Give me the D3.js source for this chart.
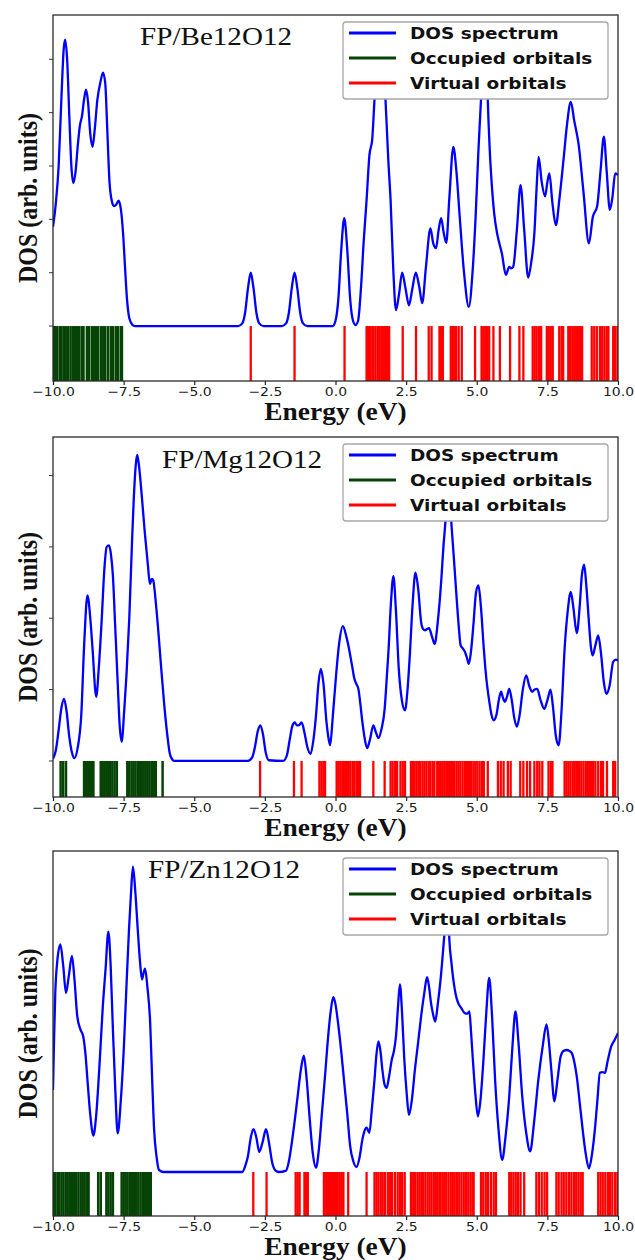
<!DOCTYPE html>
<html>
<head>
<meta charset="utf-8">
<script src="https://cdn.jsdelivr.net/npm/d3@7.9.0/dist/d3.min.js"></script>
<style>
  body { margin: 0; background: #fff; }
  svg { display: block; }
</style>
</head>
<body>
<svg id="chart" width="635" height="1260"></svg>
<script>
// ── data ──────────────────────────────────────────────────────────
const energyTicks  = [-10, -7.5, -5, -2.5, 0, 2.5, 5, 7.5, 10];
const legendLabels = ['DOS spectrum', 'Occupied orbitals', 'Virtual orbitals'];
const titles       = ['FP/Be12O12', 'FP/Mg12O12', 'FP/Zn12O12'];

// [energy (eV), DOS (arb.)]
const beDos = [[-10.0,1.86],[-9.9,2.3],[-9.8,3.0],[-9.7,4.3],[-9.62,5.2],[-9.57,5.37],[-9.5,5.0],[-9.42,3.9],[-9.35,3.0],[-9.28,2.68],[-9.2,2.9],[-9.12,3.4],[-9.05,3.75],[-8.97,3.95],[-8.9,4.25],[-8.83,4.43],[-8.76,4.2],[-8.68,3.6],[-8.6,3.36],[-8.52,3.7],[-8.43,4.24],[-8.33,4.55],[-8.23,4.75],[-8.15,4.55],[-8.08,3.7],[-8.0,2.7],[-7.92,2.35],[-7.84,2.25],[-7.76,2.28],[-7.68,2.35],[-7.6,2.2],[-7.52,1.74],[-7.45,1.1],[-7.38,0.5],[-7.3,0.15],[-7.2,0.03],[-7.1,0],[-3.45,0],[-3.3,0.05],[-3.2,0.25],[-3.1,0.7],[-3.0,1.0],[-2.9,0.7],[-2.8,0.25],[-2.7,0.05],[-2.55,0],[-1.9,0],[-1.75,0.05],[-1.65,0.25],[-1.55,0.7],[-1.45,1.0],[-1.35,0.7],[-1.25,0.25],[-1.15,0.05],[-1.0,0],[-0.1,0],[0.0,0.1],[0.1,0.5],[0.2,1.4],[0.31,2.02],[0.42,1.4],[0.52,0.5],[0.62,0.1],[0.71,0.02],[0.8,0.1],[0.9,0.7],[1.0,1.6],[1.1,2.36],[1.2,3.2],[1.3,3.5],[1.38,4.24],[1.48,5.0],[1.57,5.25],[1.67,5.0],[1.77,4.24],[1.87,3.1],[1.95,2.36],[2.05,1.0],[2.14,0.3],[2.25,0.6],[2.36,1.0],[2.48,0.7],[2.6,0.39],[2.72,0.7],[2.84,1.0],[2.96,0.75],[3.07,0.43],[3.2,1.1],[3.36,1.83],[3.46,1.55],[3.56,1.46],[3.65,1.8],[3.74,2.02],[3.83,1.75],[3.92,1.56],[4.03,2.4],[4.17,3.36],[4.28,2.9],[4.39,2.1],[4.55,1.0],[4.72,0.36],[4.85,1.0],[4.96,2.05],[5.06,3.3],[5.15,4.24],[5.25,5.1],[5.3,5.3],[5.35,5.0],[5.39,4.24],[5.46,3.3],[5.53,2.67],[5.62,2.1],[5.72,1.74],[5.8,1.55],[5.89,1.36],[6.03,0.96],[6.15,1.11],[6.22,1.08],[6.29,1.11],[6.42,1.8],[6.55,2.64],[6.68,1.8],[6.82,0.91],[6.93,1.2],[7.04,1.74],[7.12,2.6],[7.19,3.17],[7.3,2.7],[7.42,2.43],[7.5,2.7],[7.57,2.86],[7.68,2.3],[7.8,1.89],[7.93,2.4],[8.07,3.11],[8.2,3.8],[8.33,4.2],[8.45,3.85],[8.61,3.39],[8.78,2.5],[8.97,1.55],[9.11,2.05],[9.26,2.24],[9.38,2.9],[9.5,3.55],[9.6,2.9],[9.71,2.18],[9.8,2.4],[9.9,2.86],[10.0,2.83]];

const mgDos = [[-10.0,0.03],[-9.9,0.15],[-9.81,0.4],[-9.7,0.75],[-9.61,0.87],[-9.52,0.7],[-9.43,0.36],[-9.33,0.12],[-9.24,0.04],[-9.12,0.2],[-9.0,0.64],[-8.9,1.6],[-8.78,2.32],[-8.68,2.0],[-8.6,1.57],[-8.47,0.9],[-8.38,1.3],[-8.28,1.95],[-8.18,2.7],[-8.1,3.0],[-8.02,3.02],[-7.95,2.9],[-7.88,2.6],[-7.8,1.9],[-7.71,1.1],[-7.64,0.5],[-7.57,0.27],[-7.48,0.7],[-7.4,1.2],[-7.3,2.0],[-7.2,3.1],[-7.14,3.68],[-7.07,4.15],[-7.02,4.29],[-6.96,4.15],[-6.85,3.68],[-6.75,3.2],[-6.64,2.74],[-6.57,2.48],[-6.5,2.55],[-6.45,2.53],[-6.38,2.3],[-6.28,1.86],[-6.17,1.3],[-6.06,0.78],[-5.95,0.35],[-5.85,0.08],[-5.7,0],[-3.1,0],[-2.95,0.05],[-2.85,0.2],[-2.75,0.42],[-2.66,0.5],[-2.57,0.38],[-2.47,0.12],[-2.36,0.01],[-1.85,0],[-1.72,0.08],[-1.62,0.3],[-1.52,0.5],[-1.44,0.54],[-1.37,0.5],[-1.3,0.5],[-1.2,0.54],[-1.1,0.4],[-1.0,0.2],[-0.88,0.1],[-0.78,0.3],[-0.69,0.64],[-0.6,1.1],[-0.52,1.29],[-0.43,1.1],[-0.32,0.55],[-0.24,0.3],[-0.19,0.22],[-0.1,0.6],[0.02,1.2],[0.13,1.65],[0.26,1.89],[0.38,1.75],[0.48,1.57],[0.58,1.35],[0.67,1.15],[0.75,1.07],[0.81,1.01],[0.88,0.8],[0.95,0.55],[1.04,0.3],[1.12,0.18],[1.22,0.3],[1.34,0.5],[1.43,0.4],[1.52,0.32],[1.63,0.45],[1.74,0.73],[1.82,1.2],[1.88,1.57],[1.96,2.2],[2.05,2.59],[2.14,2.1],[2.24,1.29],[2.35,0.85],[2.46,0.71],[2.55,1.0],[2.63,1.48],[2.73,2.2],[2.83,2.64],[2.93,2.4],[3.03,1.95],[3.1,1.85],[3.17,1.83],[3.24,1.85],[3.31,1.86],[3.41,1.75],[3.51,1.64],[3.62,1.95],[3.74,2.51],[3.82,3.0],[3.89,3.35],[3.96,3.8],[4.0,3.9],[4.04,3.8],[4.1,3.35],[4.18,2.9],[4.25,2.5],[4.35,1.95],[4.43,1.62],[4.5,1.58],[4.58,1.53],[4.65,1.45],[4.72,1.36],[4.8,1.55],[4.89,1.95],[4.97,2.35],[5.06,2.46],[5.15,2.15],[5.25,1.57],[5.34,1.15],[5.43,0.87],[5.52,0.65],[5.6,0.57],[5.7,0.65],[5.78,0.85],[5.86,0.97],[5.93,0.88],[6.0,0.83],[6.07,0.9],[6.15,1.01],[6.24,0.85],[6.33,0.6],[6.42,0.48],[6.52,0.65],[6.63,1.0],[6.75,1.2],[6.86,1.05],[6.96,0.97],[7.05,1.0],[7.14,1.01],[7.26,0.85],[7.39,0.73],[7.5,0.85],[7.61,1.0],[7.7,0.75],[7.8,0.35],[7.9,0.22],[8.0,0.7],[8.11,1.57],[8.22,2.1],[8.33,2.37],[8.42,2.15],[8.54,1.79],[8.65,2.2],[8.72,2.6],[8.8,2.75],[8.88,2.45],[8.97,1.95],[9.04,1.6],[9.1,1.48],[9.2,1.62],[9.3,1.76],[9.4,1.5],[9.5,1.1],[9.59,0.94],[9.7,1.05],[9.83,1.39],[9.92,1.42],[10.0,1.41]];

const znDos = [[-10.0,1.15],[-9.96,1.9],[-9.92,2.5],[-9.85,2.95],[-9.74,3.19],[-9.64,2.9],[-9.54,2.51],[-9.44,2.75],[-9.33,3.03],[-9.24,2.7],[-9.14,2.18],[-9.03,2.0],[-8.93,1.9],[-8.85,1.65],[-8.78,1.29],[-8.68,0.8],[-8.57,0.51],[-8.47,0.8],[-8.35,1.53],[-8.24,2.3],[-8.14,2.84],[-8.04,3.37],[-7.96,2.9],[-7.88,2.0],[-7.8,1.2],[-7.71,0.54],[-7.6,1.0],[-7.49,1.76],[-7.4,2.6],[-7.31,3.4],[-7.24,3.9],[-7.17,4.28],[-7.09,3.95],[-7.0,3.4],[-6.92,2.95],[-6.85,2.7],[-6.8,2.78],[-6.74,2.85],[-6.66,2.6],[-6.56,2.09],[-6.49,1.3],[-6.42,0.59],[-6.33,0.2],[-6.25,0.03],[-6.1,0],[-3.3,0],[-3.2,0.08],[-3.1,0.22],[-3.0,0.48],[-2.9,0.6],[-2.8,0.48],[-2.7,0.28],[-2.58,0.42],[-2.46,0.6],[-2.35,0.4],[-2.24,0.13],[-2.12,0.02],[-2.0,0],[-1.75,0.02],[-1.65,0.15],[-1.55,0.4],[-1.45,0.7],[-1.34,1.06],[-1.22,1.45],[-1.12,1.63],[-1.02,1.3],[-0.91,0.73],[-0.8,0.25],[-0.69,0.06],[-0.58,0.35],[-0.48,0.83],[-0.37,1.35],[-0.26,1.9],[-0.17,2.25],[-0.08,2.45],[0.0,2.35],[0.09,2.09],[0.2,1.7],[0.31,1.25],[0.42,0.8],[0.52,0.36],[0.63,0.15],[0.74,0.07],[0.85,0.2],[0.95,0.45],[1.03,0.58],[1.1,0.62],[1.2,0.55],[1.28,0.85],[1.38,1.29],[1.45,1.65],[1.52,1.83],[1.59,1.7],[1.66,1.43],[1.74,1.22],[1.81,1.18],[1.9,1.35],[1.99,1.57],[2.07,1.7],[2.14,1.9],[2.21,2.3],[2.28,2.63],[2.36,2.2],[2.43,1.62],[2.52,1.1],[2.6,0.8],[2.7,1.0],[2.81,1.43],[2.92,1.8],[3.03,2.18],[3.14,2.5],[3.24,2.73],[3.31,2.6],[3.38,2.37],[3.46,2.2],[3.53,2.11],[3.62,2.35],[3.72,2.7],[3.84,3.26],[3.9,3.55],[3.95,3.65],[4.0,3.55],[4.03,3.26],[4.1,2.95],[4.17,2.7],[4.25,2.5],[4.34,2.37],[4.45,2.3],[4.57,2.23],[4.66,2.22],[4.74,2.25],[4.8,1.95],[4.87,1.53],[4.95,1.1],[5.04,0.78],[5.13,1.0],[5.23,1.53],[5.34,2.25],[5.44,2.72],[5.54,2.2],[5.65,1.29],[5.77,0.6],[5.9,0.17],[6.02,0.5],[6.15,1.06],[6.27,1.8],[6.37,2.25],[6.48,1.8],[6.61,1.06],[6.75,0.55],[6.89,0.29],[7.03,0.7],[7.18,1.29],[7.33,1.75],[7.47,2.07],[7.56,1.8],[7.64,1.43],[7.75,0.99],[7.86,1.3],[7.97,1.62],[8.08,1.7],[8.18,1.71],[8.27,1.7],[8.36,1.67],[8.45,1.55],[8.54,1.34],[8.65,0.95],[8.75,0.59],[8.86,0.25],[8.97,0.05],[9.08,0.25],[9.18,0.59],[9.27,1.0],[9.36,1.39],[9.45,1.4],[9.54,1.39],[9.63,1.55],[9.76,1.76],[9.88,1.85],[10.0,1.95]];

// orbital energies (eV)
const beOccupied = [-9.98,-9.93,-9.85,-9.76,-9.7,-9.62,-9.55,-9.47,-9.38,-9.3,-9.22,-9.15,-9.07,-8.98,-8.92,-8.8,-8.72,-8.62,-8.55,-8.47,-8.4,-8.3,-8.22,-8.15,-8.05,-7.95,-7.88,-7.78,-7.7,-7.6,-7.56];
const beVirtual  = [-3.0,-1.45,0.32,1.1,1.15,1.22,1.3,1.35,1.42,1.5,1.55,1.62,1.68,1.75,1.82,1.9,2.38,2.85,3.3,3.4,3.68,3.74,3.8,4.08,4.14,4.2,4.27,4.36,4.47,4.94,5.17,5.23,5.3,5.36,5.44,5.59,5.82,6.18,6.51,6.65,6.98,7.05,7.12,7.2,7.28,7.48,7.55,7.62,7.69,7.92,8.0,8.06,8.24,8.3,8.38,8.45,8.52,8.58,8.66,8.73,9.07,9.16,9.25,9.36,9.44,9.52,9.6,9.66,9.83,9.9,9.98];
const mgOccupied = [-9.73,-9.64,-9.54,-8.9,-8.84,-8.77,-8.7,-8.63,-8.57,-8.31,-8.24,-8.17,-8.1,-8.04,-7.98,-7.9,-7.82,-7.74,-7.37,-7.3,-7.22,-7.15,-7.08,-7.0,-6.93,-6.86,-6.79,-6.72,-6.65,-6.58,-6.5,-6.43,-6.36,-6.12];
const mgVirtual  = [-2.67,-1.47,-1.2,-0.57,-0.5,-0.43,-0.37,0.04,0.1,0.17,0.24,0.3,0.37,0.44,0.52,0.6,0.66,0.74,0.8,0.87,1.34,1.74,1.95,2.02,2.1,2.18,2.3,2.38,2.46,2.67,2.74,2.8,2.87,2.94,3.0,3.08,3.15,3.22,3.3,3.36,3.44,3.5,3.6,3.66,3.72,3.78,3.85,3.92,3.98,4.05,4.12,4.2,4.28,4.35,4.42,4.5,4.58,4.65,4.72,4.8,4.88,4.95,5.02,5.1,5.18,5.25,5.39,5.75,5.85,5.95,6.1,6.2,6.54,6.65,6.78,6.89,7.04,7.14,7.22,7.32,7.54,7.62,7.68,8.11,8.18,8.25,8.32,8.4,8.47,8.55,8.62,8.7,8.78,8.86,8.92,8.97,9.04,9.12,9.2,9.3,9.4,9.47,9.61,9.83,9.9];
const znOccupied = [-9.98,-9.92,-9.84,-9.78,-9.7,-9.63,-9.55,-9.48,-9.4,-9.33,-9.25,-9.18,-9.1,-9.02,-8.95,-8.88,-8.8,-8.74,-8.4,-8.31,-8.11,-8.04,-7.96,-7.88,-7.57,-7.5,-7.43,-7.36,-7.28,-7.2,-7.13,-7.06,-6.98,-6.9,-6.82,-6.75,-6.68,-6.6,-6.54];
const znVirtual  = [-2.91,-2.44,-1.41,-1.34,-1.27,-1.1,-1.04,-0.98,-0.41,-0.33,-0.26,-0.19,-0.12,-0.05,0.02,0.08,0.15,0.22,0.28,0.45,1.1,1.38,1.45,1.52,1.6,1.67,1.75,1.85,1.93,2.0,2.1,2.2,2.28,2.36,2.45,2.67,2.75,2.82,2.9,2.97,3.04,3.1,3.18,3.26,3.33,3.4,3.48,3.55,3.62,3.7,3.78,3.85,3.92,4.0,4.08,4.15,4.22,4.3,4.38,4.46,4.54,4.62,4.7,4.78,4.85,4.89,5.15,5.23,5.32,5.4,5.5,5.6,5.68,6.15,6.22,6.3,6.38,6.46,6.55,6.68,7.11,7.2,7.3,7.4,7.49,7.82,7.9,8.0,8.08,8.17,8.26,8.35,8.44,8.52,8.6,8.68,8.75,9.3,9.38,9.46,9.55,9.64,9.72,9.8,9.9,9.98];

const yTicksBe = [0, 1, 2, 3, 4, 5];
const yTicksMg = [0, 1, 2, 3, 4];

// ── layout ───────────────────────────────────────────────────────
const svg = d3.select('#chart');
const left = 53, right = 618;
const SX = 1.12;                       // the figure is a bit stretched sideways
const BLUE = '#0000ff', GREEN = '#064406', RED = '#ff0000';

const panels = [
  { title: titles[0], dos: beDos, occ: beOccupied, virt: beVirtual, top: 15,  bottom: 381,  yDom: [-1.03, 5.83], yTicks: yTicksBe, titleX: 140, titleY: 45 },
  { title: titles[1], dos: mgDos, occ: mgOccupied, virt: mgVirtual, top: 437, bottom: 797,  yDom: [-0.505, 4.54], yTicks: yTicksMg, titleX: 162, titleY: 468 },
  { title: titles[2], dos: znDos, occ: znOccupied, virt: znVirtual, top: 851, bottom: 1216, yDom: [-0.617, 4.5], yTicks: [], titleX: 148, titleY: 878 }
];

const x = d3.scaleLinear().domain([-10, 10]).range([left, right]);

function stretched(g, tx, ty, extra = '') {
  return g.attr('transform', `translate(${tx},${ty}) ${extra} scale(${SX},1)`);
}

panels.forEach((p, i) => {
  const y = d3.scaleLinear().domain(p.yDom).range([p.bottom, p.top]);
  const g = svg.append('g');

  const clipId = 'clip' + i;
  g.append('clipPath').attr('id', clipId)
    .append('rect').attr('x', left).attr('y', p.top)
    .attr('width', right - left).attr('height', p.bottom - p.top);

  const plot = g.append('g').attr('clip-path', `url(#${clipId})`);

  /* orbital sticks, below zero ------------------------------------ */
  plot.selectAll('line.occ').data(p.occ).join('line')
    .attr('class', 'occ')
    .attr('x1', d => x(d)).attr('x2', d => x(d))
    .attr('y1', y(p.yDom[0])).attr('y2', y(0))
    .attr('stroke', GREEN).attr('stroke-width', 2.5);

  plot.selectAll('line.virt').data(p.virt).join('line')
    .attr('class', 'virt')
    .attr('x1', d => x(d)).attr('x2', d => x(d))
    .attr('y1', y(p.yDom[0])).attr('y2', y(0))
    .attr('stroke', RED).attr('stroke-width', 2.3);

  /* DOS curve ------------------------------------------------------ */
  const line = d3.line()
    .x(d => x(d[0])).y(d => y(d[1]))
    .curve(d3.curveMonotoneX);
  plot.append('path').datum(p.dos)
    .attr('d', line)
    .attr('fill', 'none').attr('stroke', BLUE)
    .attr('stroke-width', 2.3).attr('stroke-linejoin', 'round');

  /* axes ----------------------------------------------------------- */
  const xAxis = g.append('g')
    .attr('transform', `translate(0,${p.bottom})`)
    .call(d3.axisBottom(x).tickValues(energyTicks).tickSize(4)
      .tickFormat(d => d3.format('.1f')(d).replace('-', '\u2212')));
  xAxis.select('.domain').remove();
  xAxis.selectAll('line').attr('stroke', '#222').attr('stroke-width', 1.2);
  xAxis.selectAll('text').each(function () {
    d3.select(this).attr('x', null).attr('y', null).attr('dy', null)
      .attr('transform', `translate(0,14.5) scale(${SX},1)`);
  });
  xAxis.selectAll('text')
    .attr('fill', '#1a1a1a')
    .attr('font-family', 'DejaVu Sans').attr('font-size', 12.5);

  if (p.yTicks.length) {
    g.append('g').selectAll('line').data(p.yTicks).join('line')
      .attr('x1', left - 4).attr('x2', left)
      .attr('y1', d => y(d)).attr('y2', d => y(d))
      .attr('stroke', '#333').attr('stroke-width', 1);
  }

  /* frame */
  g.append('rect')
    .attr('x', left).attr('y', p.top)
    .attr('width', right - left).attr('height', p.bottom - p.top)
    .attr('fill', 'none').attr('stroke', '#2a2a2a').attr('stroke-width', 1.3);

  /* title inside the plot */
  stretched(g.append('text'), p.titleX, p.titleY)
    .attr('font-family', 'Liberation Serif').attr('font-size', 26)
    .attr('fill', '#111')
    .text(p.title);

  /* axis labels */
  stretched(g.append('text'), (left + right) / 2, p.bottom + 39)
    .attr('text-anchor', 'middle')
    .attr('font-family', 'Liberation Serif').attr('font-weight', 'bold')
    .attr('font-size', 24.5).attr('fill', '#111')
    .text('Energy (eV)');

  g.append('text')
    .attr('transform', `translate(28,${(p.top + p.bottom) / 2}) rotate(-90) scale(1,${SX})`)
    .attr('text-anchor', 'middle').attr('dominant-baseline', 'central')
    .attr('font-family', 'Liberation Serif').attr('font-weight', 'bold')
    .attr('font-size', 24).attr('fill', '#111')
    .text('DOS (arb. units)');

  /* legend */
  const lw = 265, lh = 77;
  const lx = right - 10 - lw, ly = p.top + 7;
  const lg = g.append('g');
  lg.append('rect')
    .attr('x', lx).attr('y', ly).attr('width', lw).attr('height', lh)
    .attr('rx', 3).attr('fill', '#fff')
    .attr('stroke', '#a8a8a8').attr('stroke-width', 1.3);
  const legendColors = [BLUE, GREEN, RED];
  legendLabels.forEach((label, k) => {
    const ry = ly + 11 + k * 25;
    lg.append('line')
      .attr('x1', lx + 6).attr('x2', lx + 53)
      .attr('y1', ry).attr('y2', ry)
      .attr('stroke', legendColors[k]).attr('stroke-width', 3);
    stretched(lg.append('text'), lx + 67, ry + 6)
      .attr('font-family', 'DejaVu Sans').attr('font-weight', 'bold')
      .attr('font-size', 16.5).attr('fill', '#111')
      .text(label);
  });
});
</script>
</body>
</html>
